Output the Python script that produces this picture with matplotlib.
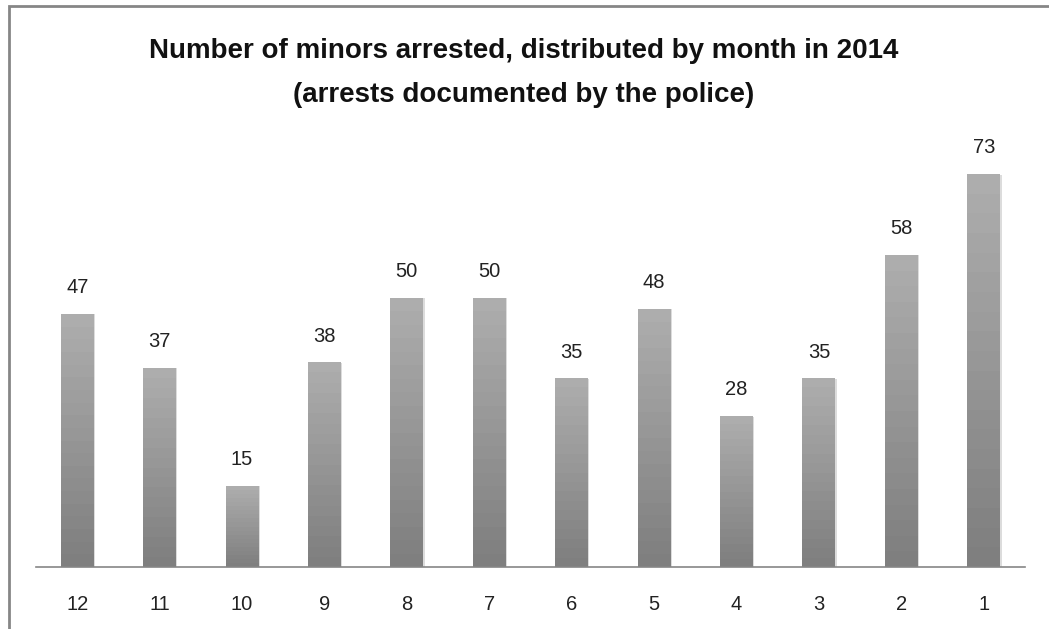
import numpy as np
import matplotlib.pyplot as plt
from matplotlib.patches import Rectangle
from matplotlib.colors import LinearSegmentedColormap

months = ['12', '11', '10', '9', '8', '7', '6', '5', '4', '3', '2', '1']
arrests = [47, 37, 15, 38, 50, 50, 35, 48, 28, 35, 58, 73]
title = 'Number of minors arrested, distributed by month in 2014\n(arrests documented by the police)'

plt.rcParams['font.family'] = ['Liberation Sans', 'DejaVu Sans']

W, H = 1049, 629
fig = plt.figure(figsize=(W / 100, H / 100), dpi=100)

# outer chart frame (right and bottom edges fall outside the image)
fig.patches.append(Rectangle((8.5 / W, -0.1), 1.2, 1 - 6 / H + 0.1, transform=fig.transFigure,
                             fill=False, edgecolor='#868686', linewidth=2, zorder=0))

# axes: baseline at y=567, x from 36 to 1025
ax = fig.add_axes([36 / W, 1 - 567 / H, (1025 - 36) / W, (567 - 137) / H])

x = np.arange(len(months))
bars = ax.bar(x, arrests, width=0.4, color='none', edgecolor='none')

# vertical banded gradient, light at top, dark at bottom
cmap = LinearSegmentedColormap.from_list('g', ['#7f7f7f', '#adadad'])
grad = np.linspace(0, 1, 20).reshape(-1, 1)
for b, v in zip(bars, arrests):
    x0 = b.get_x()
    w = b.get_width()
    ax.add_patch(Rectangle((x0 + 0.015, 0), w, v, facecolor='#dcdcdc', edgecolor='none', zorder=1))
    ax.imshow(grad, extent=(x0, x0 + w, 0, v), origin='lower', aspect='auto',
              cmap=cmap, interpolation='nearest', zorder=2)
    ax.text(x0 + w / 2, v + 3.2, str(v), ha='center', va='bottom', fontsize=14.5, color='#222222')

ax.set_xlim(-0.5, len(months) - 0.5)
ax.set_ylim(0, 80)

for s in ['top', 'right', 'left']:
    ax.spines[s].set_visible(False)
ax.spines['bottom'].set_color('#868686')
ax.spines['bottom'].set_linewidth(1.2)
ax.set_yticks([])
ax.set_xticks(x)
ax.set_xticklabels(months, fontsize=14.5, color='#222222')
ax.tick_params(axis='x', length=0, pad=20)

fig.text(524 / W, 1 - 73 / H, title, ha='center', va='center', fontsize=20,
         fontweight='bold', linespacing=1.9, color='#111111')

fig.savefig('out.png', dpi=100)
